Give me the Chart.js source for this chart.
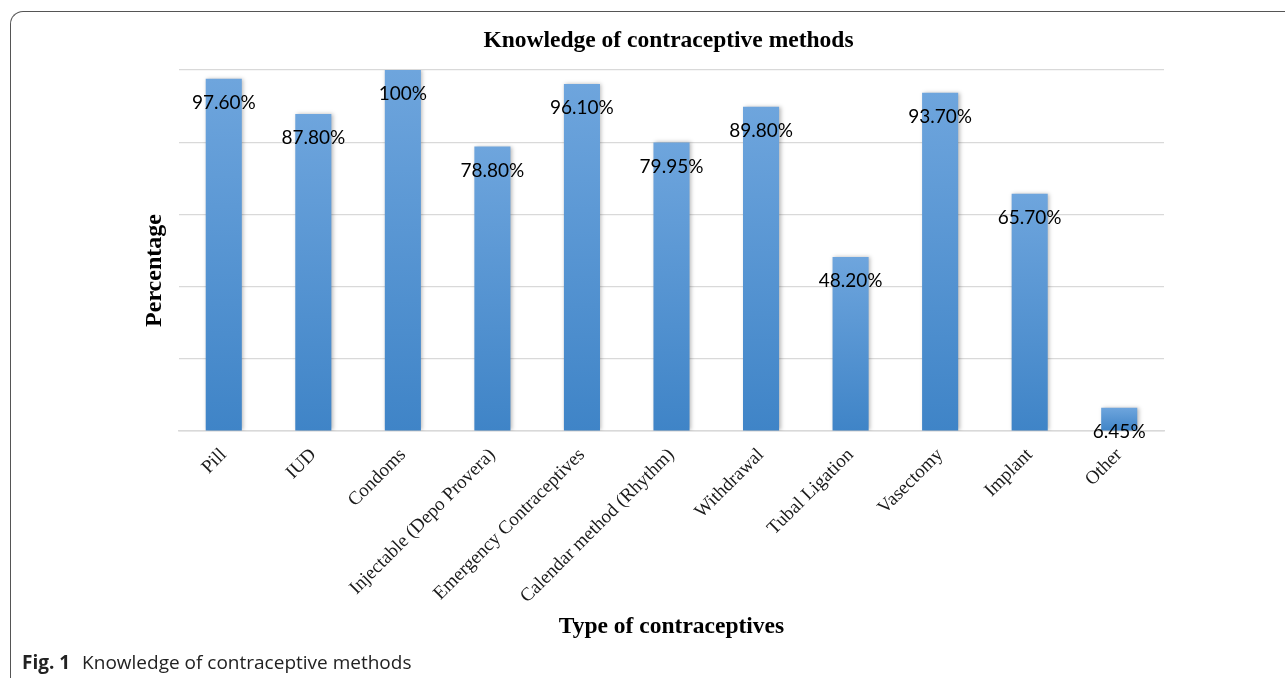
<!DOCTYPE html>
<html>
<head>
<meta charset="utf-8">
<script src="https://cdn.jsdelivr.net/npm/chart.js@4/dist/chart.umd.min.js"></script>
<style>
  html, body { margin:0; padding:0; background:#fff; }
  body { width:1285px; height:678px; position:relative; overflow:hidden; }
  #wrap { position:absolute; left:0; top:0; width:1285px; height:678px; }
  #frame { position:absolute; left:10px; top:11px; width:1300px; height:700px;
           border-left:1.2px solid #555; border-top:1.2px solid #555; border-top-left-radius:13px; box-sizing:border-box; pointer-events:none; }
  #caption { position:absolute; left:22px; top:649px; font-family:"Open Sans","Noto Sans",sans-serif; font-size:19px; color:#222; white-space:nowrap; }
  #caption b { font-weight:700; margin-right:7px; }
</style>
</head>
<body>
<div id="wrap"><canvas id="c" width="1285" height="678"></canvas></div>
<div id="frame"></div>
<div id="caption"><b>Fig. 1</b> Knowledge of contraceptive methods</div>
<script>
const categories = ["Pill","IUD","Condoms","Injectable (Depo Provera)","Emergency Contraceptives","Calendar method (Rhythm)","Withdrawal","Tubal Ligation","Vasectomy","Implant","Other"];
const knowledgePct = [97.6, 87.8, 100, 78.8, 96.1, 79.95, 89.8, 48.2, 93.7, 65.7, 6.45];
const yTicks = [0, 20, 40, 60, 80, 100];
const chartTitle = "Knowledge of contraceptive methods";
const yTitle = "Percentage";
const xTitle = "Type of contraceptives";

function fmt(v){ return (v === 100 ? "100" : v.toFixed(2)) + "%"; }

const textPlugin = {
  id: 'texts',
  beforeDatasetsDraw(chart){
    const ctx = chart.ctx;
    ctx.save();
    ctx.shadowColor = 'rgba(0,0,0,0.28)';
    ctx.shadowBlur = 4;
    ctx.shadowOffsetX = 1.5;
    ctx.shadowOffsetY = 0;
  },
  afterDatasetsDraw(chart){
    const ctx = chart.ctx;
    ctx.restore();
    const a = chart.chartArea;
    ctx.save();
    const meta = chart.getDatasetMeta(0);
    ctx.fillStyle = '#000';
    ctx.font = '19px Lato';
    ctx.textAlign = 'center';
    ctx.textBaseline = 'middle';
    meta.data.forEach((bar, i) => {
      ctx.fillText(fmt(knowledgePct[i]), bar.x, bar.y + 24);
    });
    // titles
    const cx = (a.left + a.right) / 2;
    ctx.font = 'bold 23.5px "Liberation Serif"';
    ctx.fillText(chartTitle, cx - 3, 41);
    ctx.fillText(xTitle, cx, 627);
    ctx.font = 'bold 24px "Liberation Serif"';
    ctx.translate(a.left - 24, (a.top + a.bottom) / 2 + 20);
    ctx.rotate(-Math.PI / 2);
    ctx.fillText(yTitle, 0, 0);
    ctx.restore();
  }
};

new Chart(document.getElementById('c'), {
  type: 'bar',
  data: {
    labels: categories,
    datasets: [{
      data: knowledgePct,
      categoryPercentage: 1,
      barPercentage: 0.403,
      borderWidth: 0,
      backgroundColor: (c) => {
        const chart = c.chart;
        if (!chart.chartArea || c.dataIndex === undefined) return '#5b96d4';
        const y = chart.scales.y;
        const top = y.getPixelForValue(knowledgePct[c.dataIndex]);
        const bottom = y.getPixelForValue(0);
        const g = chart.ctx.createLinearGradient(0, top, 0, bottom);
        g.addColorStop(0, '#6ea5dd');
        g.addColorStop(1, '#3f84c7');
        return g;
      }
    }]
  },
  options: {
    responsive: false,
    animation: false,
    devicePixelRatio: 1,
    layout: { padding: { left: 179, right: 121, top: 70, bottom: 0 } },
    plugins: { legend: { display: false }, tooltip: { enabled: false }, title: { display: false } },
    scales: {
      x: {
        grid: { display: false, drawTicks: false },
        border: { color: '#d9d9d9', width: 1.5 },
        ticks: { autoSkip: false, maxRotation: 45, minRotation: 45, color: '#1a1a1a', padding: 13,
                 font: { family: 'Liberation Serif', size: 19 } },
        afterFit: (s) => { s.height = 678 - 431; }
      },
      y: {
        min: 0, max: 100,
        afterBuildTicks: (s) => { s.ticks = yTicks.map(v => ({ value: v })); },
        grid: { color: '#d9d9d9', lineWidth: 1.2, drawTicks: false },
        border: { display: false },
        ticks: { display: false },
        afterFit: (s) => { s.width = 0; }
      }
    }
  },
  plugins: [textPlugin]
});
</script>
</body>
</html>
